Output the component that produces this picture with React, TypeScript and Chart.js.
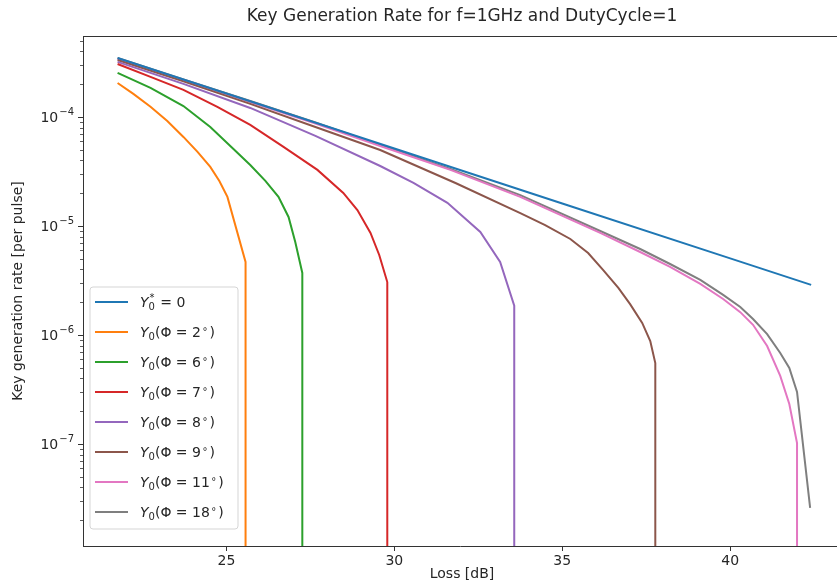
import { useEffect, useRef } from "react";
import { Chart, registerables } from "chart.js";

Chart.register(...registerables);

const TITLE = "Key Generation Rate for f=1GHz and DutyCycle=1";
const X_LABEL = "Loss [dB]";
const Y_LABEL = "Key generation rate [per pulse]";

const X_MIN = 20.73;
const X_MAX = 43.18;
const Y_MIN = 1.16e-8;
const Y_MAX = 5.53e-4;
const X_TICKS = [25, 30, 35, 40];
const Y_MAJOR_EXPONENTS = [-7, -6, -5, -4];
const Y_MINOR_DECADES = [-8, -7, -6, -5, -4];
const Y_MINOR_MANTISSAS = [2, 3, 4, 5, 6, 7, 8, 9];

const SERIES_LABELS = [
  "Y₀* = 0",
  "Y₀(Φ = 2°)",
  "Y₀(Φ = 6°)",
  "Y₀(Φ = 7°)",
  "Y₀(Φ = 8°)",
  "Y₀(Φ = 9°)",
  "Y₀(Φ = 11°)",
  "Y₀(Φ = 18°)",
];
const PHI_VALUES = ["", "2", "6", "7", "8", "9", "11", "18"];
const COLORS = ["#1f77b4", "#ff7f0e", "#2ca02c", "#d62728", "#9467bd", "#8c564b", "#e377c2", "#7f7f7f"];

// Y0* = 0
const lossY0Zero = [21.76, 25.0, 30.0, 35.0, 40.0, 42.41];
const rateY0Zero = [3.47e-4, 1.64e-4, 5.13e-5, 1.61e-5, 5.04e-6, 2.88e-6];
// Phi = 2 deg
const lossPhi2 = [21.76, 22.23, 22.74, 23.24, 23.72, 24.14, 24.52, 24.79, 25.03, 25.57, 25.57];
const ratePhi2 = [2.05e-4, 1.63e-4, 1.24e-4, 9.19e-5, 6.56e-5, 4.78e-5, 3.48e-5, 2.59e-5, 1.85e-5, 4.68e-6, 1e-9];
// Phi = 6 deg
const lossPhi6 = [21.76, 22.74, 23.72, 24.52, 25.21, 25.71, 26.16, 26.55, 26.85, 27.05, 27.26, 27.26];
const ratePhi6 = [2.54e-4, 1.85e-4, 1.26e-4, 8.1e-5, 5.08e-5, 3.63e-5, 2.59e-5, 1.85e-5, 1.21e-5, 7.13e-6, 3.71e-6, 1e-9];
// Phi = 7 deg
const lossPhi7 = [21.76, 22.74, 23.72, 24.73, 25.71, 26.7, 27.71, 28.48, 28.9, 29.29, 29.55, 29.79, 29.79];
const ratePhi7 = [3.06e-4, 2.33e-4, 1.77e-4, 1.24e-4, 8.45e-5, 5.31e-5, 3.27e-5, 2.01e-5, 1.4e-5, 8.63e-6, 5.42e-6, 3.06e-6, 1e-9];
// Phi = 8 deg
const lossPhi8 = [21.76, 23.72, 25.71, 27.65, 29.58, 30.57, 31.58, 32.56, 33.15, 33.57, 33.57];
const ratePhi8 = [3.2e-4, 2.01e-4, 1.21e-4, 6.7e-5, 3.55e-5, 2.48e-5, 1.63e-5, 8.81e-6, 4.68e-6, 1.86e-6, 1e-9];
// Phi = 9 deg
const lossPhi9 = [21.76, 23.72, 25.71, 27.65, 29.58, 31.82, 33.75, 34.49, 35.24, 35.77, 36.22, 36.67, 37.02, 37.38, 37.62, 37.77, 37.77];
const ratePhi9 = [3.33e-4, 2.12e-4, 1.32e-4, 8.1e-5, 4.98e-5, 2.48e-5, 1.31e-5, 1.02e-5, 7.6e-6, 5.65e-6, 3.94e-6, 2.7e-6, 1.92e-6, 1.29e-6, 8.81e-7, 5.53e-7, 1e-9];
// Phi = 11 deg
const lossPhi11 = [21.76, 23.72, 25.71, 27.65, 29.58, 31.67, 33.75, 36.13, 37.32, 38.21, 39.11, 39.79, 40.3, 40.68, 41.1, 41.49, 41.76, 41.99, 41.99];
const ratePhi11 = [3.4e-4, 2.18e-4, 1.37e-4, 8.71e-5, 5.42e-5, 3.27e-5, 1.85e-5, 8.63e-6, 5.77e-6, 4.21e-6, 2.94e-6, 2.14e-6, 1.62e-6, 1.24e-6, 7.93e-7, 4.21e-7, 2.33e-7, 1.02e-7, 1e-9];
// Phi = 18 deg
const lossPhi18 = [21.76, 23.72, 25.71, 27.65, 29.58, 31.67, 33.75, 36.13, 37.32, 38.21, 39.11, 39.79, 40.3, 40.68, 41.1, 41.49, 41.76, 41.99, 42.38];
const ratePhi18 = [3.47e-4, 2.21e-4, 1.4e-4, 8.91e-5, 5.53e-5, 3.33e-5, 1.92e-5, 8.99e-6, 6.15e-6, 4.48e-6, 3.2e-6, 2.33e-6, 1.81e-6, 1.4e-6, 1.02e-6, 6.84e-7, 4.98e-7, 3.0e-7, 2.59e-8];

const LOSSES = [lossY0Zero, lossPhi2, lossPhi6, lossPhi7, lossPhi8, lossPhi9, lossPhi11, lossPhi18];
const RATES = [rateY0Zero, ratePhi2, ratePhi6, ratePhi7, ratePhi8, ratePhi9, ratePhi11, ratePhi18];

const FONT = '"DejaVu Sans", sans-serif';
const TEXT_COLOR = "#262626";
const SPINE_COLOR = "#333333";

function drawLegend(ctx: CanvasRenderingContext2D) {
  const x0 = 90, y0 = 287, w = 148, h = 242, r = 3;
  ctx.save();
  ctx.beginPath();
  ctx.moveTo(x0 + r, y0);
  ctx.lineTo(x0 + w - r, y0);
  ctx.arcTo(x0 + w, y0, x0 + w, y0 + r, r);
  ctx.lineTo(x0 + w, y0 + h - r);
  ctx.arcTo(x0 + w, y0 + h, x0 + w - r, y0 + h, r);
  ctx.lineTo(x0 + r, y0 + h);
  ctx.arcTo(x0, y0 + h, x0, y0 + h - r, r);
  ctx.lineTo(x0, y0 + r);
  ctx.arcTo(x0, y0, x0 + r, y0, r);
  ctx.closePath();
  ctx.fillStyle = "rgba(255,255,255,0.8)";
  ctx.fill();
  ctx.strokeStyle = "#d5d5d5";
  ctx.lineWidth = 1;
  ctx.stroke();

  ctx.textBaseline = "alphabetic";
  ctx.textAlign = "left";
  SERIES_LABELS.forEach((_, i) => {
    const y = 302 + i * 30;
    ctx.strokeStyle = COLORS[i];
    ctx.lineWidth = 2;
    ctx.beginPath();
    ctx.moveTo(95, y);
    ctx.lineTo(128, y);
    ctx.stroke();

    ctx.fillStyle = TEXT_COLOR;
    let x = 140;
    const base = y + 5;
    ctx.font = `italic 14px ${FONT}`;
    ctx.fillText("Y", x, base);
    x += ctx.measureText("Y").width;
    ctx.font = `10px ${FONT}`;
    ctx.fillText("0", x, base + 3);
    if (i === 0) {
      ctx.fillText("*", x + 1, base - 6);
      x += ctx.measureText("0").width + 1;
      ctx.font = `14px ${FONT}`;
      ctx.fillText(" = 0", x, base);
    } else {
      x += ctx.measureText("0").width;
      ctx.font = `14px ${FONT}`;
      const s = "(Φ = " + PHI_VALUES[i];
      ctx.fillText(s, x, base);
      x += ctx.measureText(s).width + 1.5;
      ctx.font = `10px ${FONT}`;
      ctx.fillText("°", x, base - 2);
      x += ctx.measureText("°").width + 2;
      ctx.font = `14px ${FONT}`;
      ctx.fillText(")", x, base);
    }
  });
  ctx.restore();
}

const decorPlugin = {
  id: "decor",
  afterDraw(chart: any) {
    const ctx: CanvasRenderingContext2D = chart.ctx;
    const area = chart.chartArea;
    const yScale = chart.scales.y;
    ctx.save();
    // top spine
    ctx.strokeStyle = SPINE_COLOR;
    ctx.lineWidth = 1;
    ctx.beginPath();
    ctx.moveTo(area.left, area.top + 0.5);
    ctx.lineTo(area.right, area.top + 0.5);
    ctx.stroke();

    // y ticks (major + minor)
    const lx = area.left;
    Y_MAJOR_EXPONENTS.forEach((e) => {
      const py = Math.round(yScale.getPixelForValue(Math.pow(10, e))) + 0.5;
      ctx.beginPath();
      ctx.moveTo(lx - 5, py);
      ctx.lineTo(lx, py);
      ctx.stroke();
    });
    ctx.lineWidth = 0.8;
    Y_MINOR_DECADES.forEach((e) => {
      Y_MINOR_MANTISSAS.forEach((m) => {
        const v = m * Math.pow(10, e);
        if (v < Y_MIN || v > Y_MAX) return;
        const py = Math.round(yScale.getPixelForValue(v)) + 0.5;
        ctx.beginPath();
        ctx.moveTo(lx - 3, py);
        ctx.lineTo(lx, py);
        ctx.stroke();
      });
    });

    // y tick labels 10^e
    ctx.fillStyle = TEXT_COLOR;
    ctx.textBaseline = "alphabetic";
    ctx.textAlign = "left";
    Y_MAJOR_EXPONENTS.forEach((e) => {
      const py = yScale.getPixelForValue(Math.pow(10, e));
      ctx.font = `14px ${FONT}`;
      const wBase = ctx.measureText("10").width;
      ctx.font = `10px ${FONT}`;
      const expText = "−" + String(-e);
      const wExp = ctx.measureText(expText).width;
      const xStart = lx - 9 - wBase - wExp - 1;
      ctx.font = `14px ${FONT}`;
      ctx.fillText("10", xStart, py + 5);
      ctx.font = `10px ${FONT}`;
      ctx.fillText(expText, xStart + wBase + 1, py - 2);
    });

    // title
    ctx.textAlign = "center";
    ctx.textBaseline = "middle";
    ctx.font = `17px ${FONT}`;
    ctx.fillText(TITLE, 462, 17);

    // x label
    ctx.font = `14px ${FONT}`;
    ctx.fillText(X_LABEL, 462, 574);

    // y label
    ctx.save();
    ctx.translate(18, (area.top + area.bottom) / 2);
    ctx.rotate(-Math.PI / 2);
    ctx.fillText(Y_LABEL, 0, 0);
    ctx.restore();

    drawLegend(ctx);
    ctx.restore();
  },
};

export default function App() {
  const canvasRef = useRef<HTMLCanvasElement | null>(null);

  useEffect(() => {
    const canvas = canvasRef.current;
    if (!canvas) return;
    const datasets = SERIES_LABELS.map((label, i) => ({
      label,
      data: LOSSES[i].map((x, j) => ({ x, y: RATES[i][j] })),
      borderColor: COLORS[i],
      backgroundColor: COLORS[i],
      borderWidth: 2,
      pointRadius: 0,
      tension: 0,
      fill: false,
    }));
    const chart = new Chart(canvas, {
      type: "line",
      data: { datasets },
      options: {
        responsive: false,
        animation: false,
        devicePixelRatio: 1,
        layout: { padding: { top: 36, left: 0, right: 0, bottom: 0 } },
        plugins: {
          legend: { display: false },
          tooltip: { enabled: false },
          title: { display: false },
        },
        scales: {
          x: {
            type: "linear",
            min: X_MIN,
            max: X_MAX,
            afterBuildTicks: (scale: any) => {
              scale.ticks = X_TICKS.map((value) => ({ value }));
            },
            afterFit: (scale: any) => {
              scale.height = 38;
            },
            ticks: {
              color: TEXT_COLOR,
              font: { family: FONT, size: 14 },
              padding: 2,
              maxRotation: 0,
              autoSkip: false,
            },
            grid: {
              display: true,
              drawOnChartArea: false,
              drawTicks: true,
              tickLength: 5,
              tickColor: SPINE_COLOR,
              tickWidth: 1,
              color: SPINE_COLOR,
            },
            border: { display: true, color: SPINE_COLOR, width: 1 },
          },
          y: {
            type: "logarithmic",
            min: Y_MIN,
            max: Y_MAX,
            afterFit: (scale: any) => {
              scale.width = 83;
            },
            ticks: { display: false },
            grid: { display: false },
            border: { display: true, color: SPINE_COLOR, width: 1 },
          },
        },
      },
      plugins: [decorPlugin],
    });
    return () => chart.destroy();
  }, []);

  return (
    <div style={{ position: "absolute", left: 0, top: 0, width: 837, height: 584, background: "#fff" }}>
      <canvas ref={canvasRef} width={837} height={584} style={{ display: "block" }} />
    </div>
  );
}
